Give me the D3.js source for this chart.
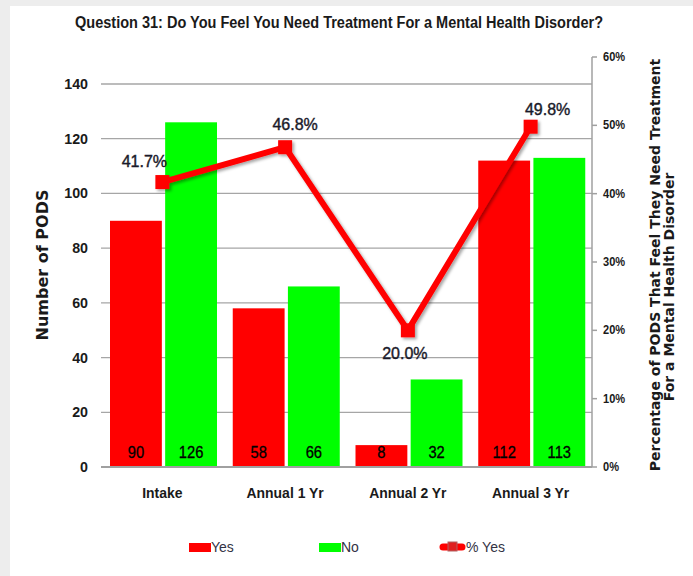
<!DOCTYPE html>
<html>
<head>
<meta charset="utf-8">
<script src="https://cdnjs.cloudflare.com/ajax/libs/d3/7.8.5/d3.min.js"></script>
<style>
  body { margin: 0; background: #ededed; }
  #chart { position: absolute; left: 0; top: 0; }
</style>
</head>
<body>
<div id="chart"></div>
<script>
// chart data
const categories = ['Intake', 'Annual 1 Yr', 'Annual 2 Yr', 'Annual 3 Yr'];
const seriesNames = ['Yes', 'No'];
const yesValues = [90, 58, 8, 112];
const noValues = [126, 66, 32, 113];
const pctYes = [0.417, 0.468, 0.200, 0.498];
const leftTicks = [0, 20, 40, 60, 80, 100, 120, 140];
const rightTicks = [0, 0.1, 0.2, 0.3, 0.4, 0.5, 0.6];

// hand-placed offsets of the % labels (dx, baseline dy from the point)
const pctLabelNudge = [[-18, -15], [10, -17], [-3, 29], [17, -12]];

const W = 693, H = 576;
const colors = { Yes: '#ff0000', No: '#00ff00' };
const sans = "'Liberation Sans', Arial, sans-serif";
const heavy = "'DejaVu Sans', Verdana, sans-serif";

// squeeze text horizontally to mimic a condensed face
function condense(sel, k) {
    sel.each(function () {
        const len = this.getComputedTextLength();
        d3.select(this)
            .attr('textLength', len * k)
            .attr('lengthAdjust', 'spacingAndGlyphs');
    });
    return sel;
}

const svg = d3.select('#chart').append('svg')
    .attr('width', W)
    .attr('height', H);

const defs = svg.append('defs');
const shadow = defs.append('filter').attr('id', 'shadow')
    .attr('x', '-20%').attr('y', '-20%').attr('width', '140%').attr('height', '140%');
shadow.append('feDropShadow')
    .attr('dx', 2).attr('dy', 2).attr('stdDeviation', 1.5)
    .attr('flood-color', '#000').attr('flood-opacity', 0.35);

// white panel
svg.append('rect')
    .attr('x', 10).attr('y', 6)
    .attr('width', W - 10).attr('height', H - 6)
    .attr('fill', '#ffffff');

const x = d3.scaleBand().domain(categories).range([101, 592]);
const x1 = d3.scaleBand().domain(seriesNames).range([9, 116]).paddingInner(0.06);
const y = d3.scaleLinear().domain([0, 140]).range([467, 84]);
const y2 = d3.scaleLinear().domain([0, 0.6]).range([467, 57]);

// title
const title = svg.append('text')
    .attr('x', 339).attr('y', 28)
    .attr('text-anchor', 'middle')
    .style('font-family', sans)
    .style('font-weight', 'bold')
    .style('font-size', '16px')
    .attr('fill', '#1a1a1a')
    .text('Question 31:  Do You Feel You Need Treatment For a Mental Health Disorder?');
title.attr('textLength', 528).attr('lengthAdjust', 'spacingAndGlyphs');

// gridlines
svg.append('g').selectAll('line')
    .data(leftTicks.filter(d => d > 0))
    .enter().append('line')
    .attr('x1', 101).attr('x2', 592)
    .attr('y1', d => y(d)).attr('y2', d => y(d))
    .attr('stroke', '#a6a6a6')
    .attr('stroke-width', 1.3);

// left axis labels
condense(svg.append('g').selectAll('text')
    .data(leftTicks)
    .enter().append('text')
    .attr('x', 88)
    .attr('y', d => y(d) + 5)
    .attr('text-anchor', 'end')
    .style('font-family', sans)
    .style('font-weight', 'bold')
    .style('font-size', '15px')
    .attr('fill', '#1a1a1a')
    .text(d => d), 0.95);

// bars
const groups = svg.append('g').selectAll('g')
    .data(categories)
    .enter().append('g')
    .attr('transform', d => `translate(${x(d)},0)`);

const barData = (c, i) => [
    { key: 'Yes', value: yesValues[i] },
    { key: 'No', value: noValues[i] }
];

groups.selectAll('rect')
    .data(barData)
    .enter().append('rect')
    .attr('x', d => x1(d.key))
    .attr('y', d => y(d.value))
    .attr('width', x1.bandwidth())
    .attr('height', d => y(0) - y(d.value))
    .attr('fill', d => colors[d.key]);

condense(groups.selectAll('text')
    .data(barData)
    .enter().append('text')
    .attr('x', d => x1(d.key) + x1.bandwidth() / 2)
    .attr('y', 458)
    .attr('text-anchor', 'middle')
    .style('font-family', sans)
    .style('font-size', '16px')
    .attr('fill', '#000')
    .attr('stroke', '#000')
    .attr('stroke-width', 0.3)
    .text(d => d.value), 0.92);

// baseline and right axis
svg.append('line')
    .attr('x1', 101).attr('x2', 592)
    .attr('y1', y(0)).attr('y2', y(0))
    .attr('stroke', '#a0a0a0').attr('stroke-width', 2);

const right = svg.append('g').attr('transform', 'translate(592,0)');
right.append('line')
    .attr('y1', y2(0.6)).attr('y2', y2(0))
    .attr('stroke', '#a0a0a0').attr('stroke-width', 1.5);
right.selectAll('line.tick')
    .data(rightTicks)
    .enter().append('line')
    .attr('class', 'tick')
    .attr('x1', 0).attr('x2', 5)
    .attr('y1', d => y2(d)).attr('y2', d => y2(d))
    .attr('stroke', '#a0a0a0').attr('stroke-width', 1.5);
condense(right.selectAll('text')
    .data(rightTicks)
    .enter().append('text')
    .attr('x', 11)
    .attr('y', d => y2(d) + 4)
    .style('font-family', sans)
    .style('font-weight', 'bold')
    .style('font-size', '13px')
    .attr('fill', '#1a1a1a')
    .text(d => d3.format('.0%')(d)), 0.85);

// category labels
condense(svg.append('g').selectAll('text')
    .data(categories)
    .enter().append('text')
    .attr('x', d => x(d) + x.bandwidth() / 2)
    .attr('y', 498)
    .attr('text-anchor', 'middle')
    .style('font-family', sans)
    .style('font-weight', 'bold')
    .style('font-size', '15px')
    .attr('fill', '#1a1a1a')
    .text(d => d), 0.93);

// axis titles
svg.append('text')
    .attr('transform', 'translate(48,265) rotate(-90)')
    .attr('text-anchor', 'middle')
    .style('font-family', heavy)
    .style('font-weight', 'bold')
    .style('font-size', '16px')
    .attr('fill', '#1a1a1a')
    .text('Number of PODS');

const rTitle = svg.append('text')
    .attr('transform', 'translate(660,265) rotate(-90)')
    .attr('text-anchor', 'middle')
    .style('font-family', heavy)
    .style('font-weight', 'bold')
    .style('font-size', '14px')
    .attr('fill', '#1a1a1a');
rTitle.append('tspan').attr('x', 0).attr('dy', 0)
    .text('Percentage of PODS That Feel They Need Treatment');
rTitle.append('tspan').attr('x', -22).attr('dy', 14)
    .text('For a Mental Health Disorder');

// % yes line
const cx = d => x(d) + x.bandwidth() / 2;
const linePts = categories.map((c, i) => [cx(c), y2(pctYes[i])]);
const lineG = svg.append('g').attr('filter', 'url(#shadow)');
lineG.append('path')
    .attr('d', d3.line()(linePts))
    .attr('fill', 'none')
    .attr('stroke', '#ff0000')
    .attr('stroke-width', 6)
    .attr('stroke-linejoin', 'round');
lineG.selectAll('rect')
    .data(linePts)
    .enter().append('rect')
    .attr('x', d => d[0] - 7)
    .attr('y', d => d[1] - 7)
    .attr('width', 14).attr('height', 14)
    .attr('fill', '#ff0000');

svg.append('g').selectAll('text')
    .data(pctYes)
    .enter().append('text')
    .attr('x', (d, i) => linePts[i][0] + pctLabelNudge[i][0])
    .attr('y', (d, i) => linePts[i][1] + pctLabelNudge[i][1])
    .attr('text-anchor', 'middle')
    .style('font-family', sans)
    .style('font-size', '16px')
    .attr('fill', '#1a1a2a')
    .attr('stroke', '#1a1a2a')
    .attr('stroke-width', 0.4)
    .text(d => d3.format('.1%')(d));

// legend
const legend = svg.append('g').style('font-family', sans).style('font-size', '14px');
const legItems = [
    { label: 'Yes', x: 189, kind: 'Yes' },
    { label: 'No', x: 319, kind: 'No' },
    { label: '% Yes', x: 440, kind: 'line' }
];
legItems.forEach(it => {
    if (it.kind === 'line') {
        legend.append('line')
            .attr('x1', it.x + 3).attr('x2', it.x + 22)
            .attr('y1', 547).attr('y2', 547)
            .attr('stroke', '#ff0000').attr('stroke-width', 7)
            .attr('stroke-linecap', 'round');
        legend.append('rect')
            .attr('x', it.x + 8).attr('y', 542)
            .attr('width', 9).attr('height', 9)
            .attr('fill', '#e02020').attr('stroke', '#b06060').attr('stroke-width', 1);
        legend.append('text').attr('x', it.x + 26).attr('y', 552)
            .attr('fill', '#333344').text(it.label);
    } else {
        legend.append('rect')
            .attr('x', it.x).attr('y', 543)
            .attr('width', 22).attr('height', 9)
            .attr('fill', colors[it.kind]);
        legend.append('text').attr('x', it.x + 22).attr('y', 552)
            .attr('fill', '#333344').text(it.label);
    }
});
</script>
</body>
</html>
